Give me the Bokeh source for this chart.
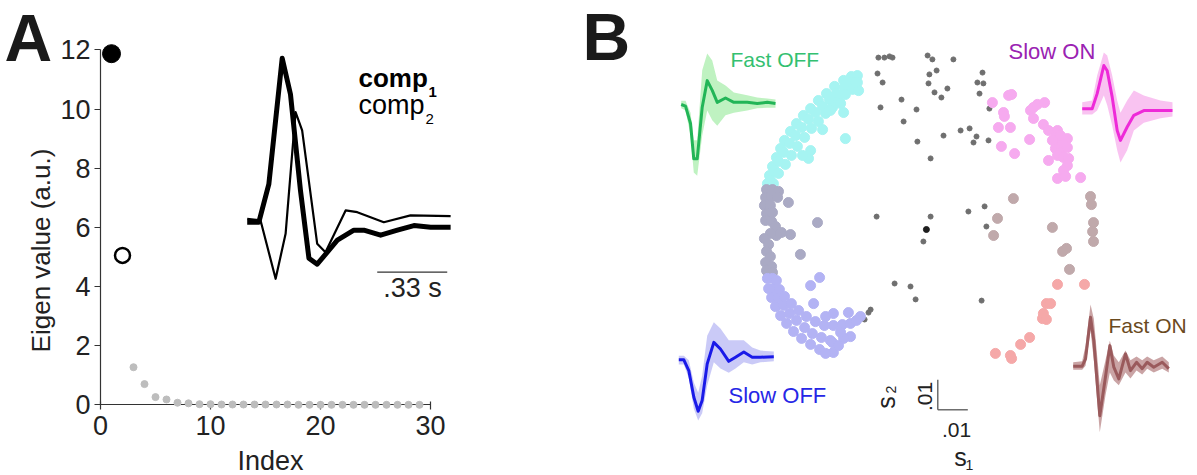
import math
from bokeh.plotting import figure
from bokeh.models import Range1d, LinearAxis, FixedTicker, Label
from bokeh.layouts import row
from bokeh.embed import file_html
from bokeh.resources import INLINE

FONT = "Liberation Sans"

# ---------------- Panel A data ----------------
eig_index = list(range(1, 30))
eig_value = [11.87, 5.05, 1.27, 0.70, 0.26, 0.18, 0.07, 0.05, 0.02, 0.02,
             0.01, 0.01, 0.01, 0.01, 0.01, 0.01, 0.01, 0.0, 0.0, 0.0,
             0.0, 0.0, 0.0, 0.0, 0.0, 0.0, 0.0, 0.0, 0.0]
x_ticks = [0, 10, 20, 30]
y_ticks = [0, 2, 4, 6, 8, 10, 12]

comp1_t = [0, 0.055, 0.102, 0.165, 0.204, 0.251, 0.291, 0.330, 0.425, 0.503,
           0.550, 0.629, 0.708, 0.786, 0.865, 0.959]
comp1_v = [0, 0, 0.19, 0.82, 0.64, 0.16, -0.18, -0.21, -0.09, -0.04,
           -0.04, -0.065, -0.04, -0.017, -0.025, -0.025]
comp2_t = [0, 0.063, 0.134, 0.181, 0.228, 0.259, 0.330, 0.369, 0.464, 0.519,
           0.644, 0.770, 0.959]
comp2_v = [0.017, 0.009, -0.283, -0.058, 0.55, 0.459, -0.108, -0.15, 0.059, 0.05,
           0.0, 0.034, 0.03]
scalebar_A = 0.33  # seconds

# ---------------- Panel B data (s1, s2 in units of 1e-3) ----------------
fast_off_s1 = [-52.7, -52.0, -51.0, -49.7, -48.3, -47.0, -45.0, -43.0, -40.7, -38.3, -35.7, -33.0, -30.3, -27.3, -24.7, -22.7,
               -51.7, -50.3, -49.0, -47.3, -45.3, -43.3, -41.3, -39.0, -36.7, -34.3, -32.0, -29.7, -27.0, -24.7,
               -50.7, -49.0, -46.7, -44.7, -42.7, -40.3, -38.0, -35.7, -33.3, -31.0, -29.0, -26.7, -24.3, -22.7,
               -26.7, -34.3, -38.3, -39.0, -41.0, -31.7, -27.3, -22.3, -23.3, -28.3]
fast_off_s2 = [7.3, 10.0, 13.0, 16.0, 19.0, 21.7, 24.7, 27.3, 30.0, 32.3, 35.0, 37.3, 39.7, 41.7, 43.0, 43.3,
               8.3, 11.7, 14.7, 17.7, 20.7, 23.3, 26.0, 28.7, 31.0, 33.0, 35.3, 37.3, 39.3, 41.0,
               7.3, 10.7, 13.7, 16.7, 19.7, 22.7, 25.7, 28.0, 30.7, 32.7, 34.7, 37.0, 38.7, 41.0,
               22.3, 25.3, 18.3, 15.7, 16.7, 31.7, 31.0, 38.3, 41.0, 34.0]

mid_off_s1 = [-53.0, -51.0, -49.0, -53.3, -51.3, -49.3, -53.7, -51.7, -53.0, -51.0, -53.3, -51.3, -50.0, -48.0,
              -49.7, -51.7, -53.7, -52.3, -53.0, -51.7, -53.3, -51.3, -53.0, -51.0, -45.7, -36.0, -45.0, -41.7]
mid_off_s2 = [5.3, 5.3, 4.7, 2.7, 3.0, 2.7, 0.0, 0.0, -2.7, -2.3, -5.0, -5.3, -7.0, -9.0,
              -10.0, -9.3, -11.0, -13.0, -15.3, -17.0, -19.0, -20.3, -21.7, -22.3, 1.0, -5.7, -9.7, -16.3]

slow_off_s1 = [-52.7, -52.3, -51.3, -50.0, -48.3, -46.3, -44.0, -41.3, -38.3, -35.3,
               -51.0, -50.3, -49.0, -47.3, -45.3, -43.0, -40.3, -37.7, -34.7, -31.7,
               -49.7, -48.7, -47.0, -44.7, -42.3, -39.7, -36.7, -33.7, -30.7, -27.7, -25.0,
               -35.3, -38.3, -37.3, -33.3, -30.7, -25.7, -21.7, -23.0, -25.0, -27.3, -31.0, -30.7, -33.3, -28.3, -29.0]
slow_off_s2 = [-24.3, -27.7, -30.7, -33.7, -36.7, -39.3, -42.0, -44.3, -46.3, -48.0,
               -24.3, -27.7, -30.7, -33.3, -36.0, -38.3, -40.7, -42.7, -44.0, -45.0,
               -25.0, -28.0, -30.3, -32.7, -35.0, -37.0, -38.7, -40.0, -40.0, -39.7, -39.3,
               -24.0, -26.7, -32.7, -37.0, -36.0, -35.7, -37.0, -38.3, -43.7, -44.3, -45.7, -49.0, -49.3, -42.3, -46.7]

slow_on_s1 = [22.3, 27.7, 28.7, 26.0, 26.3, 24.3, 28.3, 25.3, 29.7, 35.0, 36.0, 37.3, 39.7, 36.0, 39.3, 41.0, 44.0, 43.3,
              44.3, 47.3, 45.7, 43.3, 45.0, 47.3, 44.0, 46.0, 47.7, 41.0, 47.3, 46.0, 44.0, 46.7, 51.7, 34.7, 45.0, 42.3]
slow_on_s2 = [34.3, 36.7, 37.0, 31.0, 29.7, 26.0, 26.0, 19.7, 17.3, 31.7, 32.7, 33.7, 34.3, 29.0, 27.0, 25.0, 25.0, 22.7,
              21.7, 22.3, 20.7, 19.0, 17.7, 19.3, 16.7, 16.0, 15.7, 15.0, 13.3, 11.7, 9.0, 9.7, 9.3, 22.0, 23.3, 21.7]

mid_on_s1 = [29.3, 24.0, 22.7, 42.3, 45.7, 47.0, 48.0, 55.0, 55.3, 56.0, 55.7, 56.0]
mid_on_s2 = [2.3, -4.3, -10.0, -7.3, -15.3, -14.3, -21.3, 3.0, 0.3, -5.7, -8.7, -12.0]

fast_on_s1 = [44.0, 53.0, 40.3, 41.7, 39.3, 39.0, 40.3, 34.7, 31.7, 23.3, 28.3, 28.7]
fast_on_s2 = [-26.3, -26.3, -32.7, -32.7, -36.0, -37.7, -38.0, -44.0, -46.3, -49.3, -50.0, -51.0]

other_s1 = [-15.7, -13.7, -12.0, -11.0, 0.7, 2.3, 9.3, -16.0, -14.3, 1.3, 3.7, 1.0, 7.3, 3.0, 5.3, 19.0, 17.3, 19.3,
            18.0, 21.3, -8.0, -3.0, -15.0, -7.3, -2.7, 1.7, 6.0, 11.7, 14.7, 17.0, 16.0, 21.0, -16.3, 1.7, -0.7,
            14.3, 19.7, 20.3, -10.3, -5.0, -3.3, 18.7, -18.3, -19.0, -20.3]
other_s2 = [49.3, 49.3, 49.7, 49.3, 50.0, 48.7, 48.7, 44.0, 41.0, 43.7, 45.0, 40.7, 39.0, 37.7, 36.0, 44.3, 41.0, 40.7,
            37.3, 32.3, 35.3, 32.0, 32.7, 28.0, 21.3, 15.7, 23.3, 25.0, 25.7, 23.0, 21.0, 21.7, -3.7, -3.7, -12.0,
            -2.0, -0.3, -7.0, -26.0, -27.0, -31.3, -31.7, -34.7, -35.7, -38.0]
dark_s1 = [0.3]
dark_s2 = [-8.0]
scalebar_B = 10.0  # = .01

# Mean filters (t in s, normalized amplitude) with spread bands
fo_t = [0, 0.044, 0.095, 0.128, 0.163, 0.214, 0.265, 0.316, 0.367, 0.451, 0.536, 0.672, 0.774, 0.876, 0.960]
fo_mean = [0, -0.03, -0.35, -1.0, -1.0, -0.05, 0.44, 0.26, 0.04, 0.12, 0.04, 0.04, 0.02, 0.04, 0.02]
fo_hi = [0.07, 0.07, -0.15, -0.66, -0.66, 0.63, 0.94, 0.81, 0.44, 0.35, 0.22, 0.17, 0.13, 0.11, 0.09]
fo_lo = [-0.07, -0.11, -0.57, -1.25, -1.31, -0.57, -0.11, -0.29, -0.39, -0.2, -0.15, -0.11, -0.07, -0.06, -0.06]

so_t = [0, 0.051, 0.101, 0.152, 0.196, 0.236, 0.287, 0.354, 0.421, 0.505, 0.573, 0.657, 0.742, 0.825, 0.960]
so_mean = [0, 0, -0.21, -0.73, -1.0, -0.79, -0.08, 0.34, 0.21, -0.03, 0.05, 0.15, 0.05, 0.05, 0.06]
so_hi = [0.08, 0.08, -0.01, -0.44, -0.64, -0.31, 0.47, 0.73, 0.61, 0.38, 0.38, 0.38, 0.24, 0.18, 0.16]
so_lo = [-0.09, -0.09, -0.36, -0.95, -1.18, -1.04, -0.5, -0.05, -0.17, -0.25, -0.17, -0.05, -0.09, -0.05, -0.03]

sn_t = [0, 0.106, 0.159, 0.230, 0.266, 0.319, 0.372, 0.407, 0.478, 0.549, 0.655, 0.832, 0.960]
sn_mean = [0, 0, 0.35, 1.0, 0.88, 0.27, -0.5, -0.73, -0.42, -0.15, -0.04, -0.04, -0.04]
sn_hi = [0.15, 0.19, 0.77, 1.3, 1.23, 0.77, 0.19, -0.09, 0.19, 0.42, 0.31, 0.19, 0.15]
sn_lo = [-0.13, -0.13, -0.04, 0.31, 0.08, -0.39, -0.96, -1.24, -0.96, -0.5, -0.32, -0.22, -0.18]

fn_t = [0, 0.090, 0.124, 0.174, 0.207, 0.267, 0.324, 0.368, 0.408, 0.458, 0.525, 0.575, 0.636, 0.693, 0.743, 0.809, 0.894, 0.960]
fn_mean = [0, 0, 0.15, 1.0, 0.52, -1.01, -0.22, 0.42, -0.02, -0.26, 0.25, -0.09, 0.08, -0.05, 0.08, -0.02, 0.08, -0.05]
fn_hi = [0.08, 0.1, 0.42, 1.26, 0.97, -0.39, 0.12, 0.52, 0.22, 0.08, 0.32, 0.12, 0.2, 0.12, 0.2, 0.12, 0.2, 0.08]
fn_lo = [-0.07, -0.07, 0.01, 0.73, 0.12, -1.35, -0.6, -0.13, -0.29, -0.39, -0.13, -0.25, -0.09, -0.17, -0.05, -0.13, -0.05, -0.13]


# ---------------- helpers ----------------
def anchored(main, v0, X0, v1, X1):
    k = (v1 - v0) / (X1 - X0)
    return Range1d(start=v0 + (main.start - X0) * k, end=v0 + (main.end - X0) * k)


def ax(px):
    return (px - 100.0) / 11.0


def ay(py):
    return (404.3 - py) / 29.58


def bx(px):
    return (px - 925.0) / 3.0


def by(py):
    return (205.0 - py) / 3.0


def label(p, fx, fy, px, py, text, size, color="#222222", align="left", baseline="alphabetic",
          angle=0.0, bold=False):
    # Bokeh's text box places "alphabetic" about 0.36 em below the glyph baseline;
    # compensate so py is the visual baseline.
    if baseline == "alphabetic":
        py = py - 0.36 * size
    p.add_layout(Label(x=fx(px), y=fy(py), text=text, text_font=FONT, text_font_size=f"{size}px",
                       text_color=color, text_align=align, text_baseline=baseline, angle=angle,
                       text_font_style="bold" if bold else "normal"))


OX, OY = 0, 0          # page offset of the layout (template has no body margin)
WA, WB, H = 583, 614, 475

# ---------------- Panel A ----------------
pA = figure(width=WA, height=H, x_range=Range1d(ax(OX), ax(OX + WA)), y_range=Range1d(ay(OY + H), ay(OY)),
            x_axis_type=None, y_axis_type=None, toolbar_location=None, output_backend="svg",
            min_border=0, outline_line_color=None)
pA.grid.visible = False

axis_style = dict(axis_line_color="#333333", axis_line_width=1.2, major_tick_line_color="#333333",
                  major_tick_line_width=1.2, minor_tick_line_color=None, major_label_text_font=FONT,
                  major_label_text_font_size="27px", major_label_text_color="#222222")
xax = LinearAxis(fixed_location=0, bounds=(x_ticks[0], x_ticks[-1]), ticker=FixedTicker(ticks=x_ticks),
                 major_tick_in=3, major_tick_out=5, major_label_standoff=6, **axis_style)
yax = LinearAxis(fixed_location=0, bounds=(y_ticks[0], y_ticks[-1]), ticker=FixedTicker(ticks=y_ticks),
                 major_tick_in=0, major_tick_out=6, major_label_standoff=4, **axis_style)
pA.add_layout(xax, "below")
pA.add_layout(yax, "left")

pA.scatter(eig_index[2:], eig_value[2:], size=7, color="#bdbdbd", level="overlay")
pA.scatter(eig_index[1:2], eig_value[1:2], size=15, fill_color="white", line_color="black", line_width=2.5)
pA.scatter(eig_index[0:1], eig_value[0:1], size=18, color="black")

pA.extra_x_ranges = {"t": anchored(pA.x_range, 0.0, ax(246.7), 0.33, ax(316.7))}
pA.extra_y_ranges = {"amp": anchored(pA.y_range, 0.0, ay(221.7), 1.0, ay(21.7))}
pA.line(comp2_t, comp2_v, x_range_name="t", y_range_name="amp", line_width=2.2, color="black",
        line_join="round")
pA.line(comp1_t, comp1_v, x_range_name="t", y_range_name="amp", line_width=5, color="black",
        line_join="round")
sb0 = 0.613
pA.segment(x0=[sb0], x1=[sb0 + scalebar_A], y0=[-0.25], y1=[-0.25], x_range_name="t", y_range_name="amp",
           line_color="#333333", line_width=1.2)

label(pA, ax, ay, 412, 297, ".33 s", 27, align="center")
label(pA, ax, ay, 358, 87, "comp", 26, color="black", bold=True)
label(pA, ax, ay, 428, 97, "1", 15, color="black", bold=True)
label(pA, ax, ay, 358, 114, "comp", 27, color="black")
label(pA, ax, ay, 425, 124, "2", 15, color="black")
label(pA, ax, ay, 40, 250, "Eigen value (a.u.)", 26, align="center", baseline="middle", angle=math.pi / 2)
label(pA, ax, ay, 270, 470, "Index", 27, align="center")
label(pA, ax, ay, 4, 61, "A", 66, color="#1a1a1a", bold=True)

# ---------------- Panel B ----------------
pB = figure(width=WB, height=H, x_range=Range1d(bx(OX + WA), bx(OX + WA + WB)), y_range=Range1d(by(OY + H), by(OY)),
            x_axis_type=None, y_axis_type=None, toolbar_location=None, output_backend="svg",
            min_border=0, outline_line_color=None)
pB.grid.visible = False

pB.scatter(other_s1, other_s2, size=5, color="#6f6f6f")
pB.scatter(dark_s1, dark_s2, size=6, color="#1e1e1e")
pB.scatter(fast_off_s1, fast_off_s2, size=10, color="#a6f4f2")
pB.scatter(mid_off_s1, mid_off_s2, size=10, color="#aaaac4")
pB.scatter(slow_off_s1, slow_off_s2, size=10, color="#b3b3f4")
pB.scatter(slow_on_s1, slow_on_s2, size=10, color="#f6aaef")
pB.scatter(mid_on_s1, mid_on_s2, size=10, color="#c0a9ab")
pB.scatter(fast_on_s1, fast_on_s2, size=10, color="#f5a8a8")

insets = [
    ("fo", fo_t, fo_mean, fo_hi, fo_lo, 680.7, 775.0, 104.0, 54.3, "#22b557", "#b8f1ba"),
    ("so", so_t, so_mean, so_hi, so_lo, 678.3, 773.3, 359.3, 51.4, "#1a1ae8", "#c4c4f6"),
    ("sn", sn_t, sn_mean, sn_hi, sn_lo, 1081.7, 1172.0, 108.3, 43.3, "#ee2ad8", "#f8bdf0"),
    ("fn", fn_t, fn_mean, fn_hi, fn_lo, 1072.7, 1168.3, 365.7, 49.0, "#9a5a5c", "#c49a9b"),
]
xr, yr = {}, {}
for name, t, m, hi, lo, px0, px1, py0, ppa, lc, bc in insets:
    xr[name + "_t"] = anchored(pB.x_range, 0.0, bx(px0), t[-1], bx(px1))
    yr[name + "_a"] = anchored(pB.y_range, 0.0, by(py0), 1.0, by(py0 - ppa))
pB.extra_x_ranges = xr
pB.extra_y_ranges = yr
for name, t, m, hi, lo, px0, px1, py0, ppa, lc, bc in insets:
    pB.varea(x=t, y1=lo, y2=hi, fill_color=bc, fill_alpha=0.9,
             x_range_name=name + "_t", y_range_name=name + "_a")
    pB.line(t, m, line_color=lc, line_width=3, line_join="round",
            x_range_name=name + "_t", y_range_name=name + "_a")

label(pB, bx, by, 730, 67, "Fast OFF", 21, color="#33c070")
label(pB, bx, by, 728, 403, "Slow OFF", 22, color="#2626e6")
label(pB, bx, by, 1008, 59, "Slow ON", 22, color="#9a22b2")
label(pB, bx, by, 1108, 333, "Fast ON", 21, color="#6a4a1e")

# scale bar .01 x .01
sx0, sy0 = 4.1, -68.1
pB.segment(x0=[sx0, sx0], y0=[sy0, sy0], x1=[sx0, sx0 + scalebar_B], y1=[sy0 + scalebar_B, sy0],
           line_color="#555555", line_width=1.3)
label(pB, bx, by, 924, 396, ".01", 21, align="center", baseline="middle", angle=math.pi / 2)
label(pB, bx, by, 885, 402, "s", 25, align="center", baseline="middle", angle=math.pi / 2)
label(pB, bx, by, 890, 389, "2", 14, align="center", baseline="middle", angle=math.pi / 2)
label(pB, bx, by, 956, 437, ".01", 21, align="center")
label(pB, bx, by, 960, 465, "s", 25, align="center")
label(pB, bx, by, 969, 470, "1", 14, align="center")
label(pB, bx, by, 582, 60, "B", 66, color="#1a1a1a", bold=True)

layout = row(pA, pB)
open("out.html", "w").write(file_html(layout, INLINE))
